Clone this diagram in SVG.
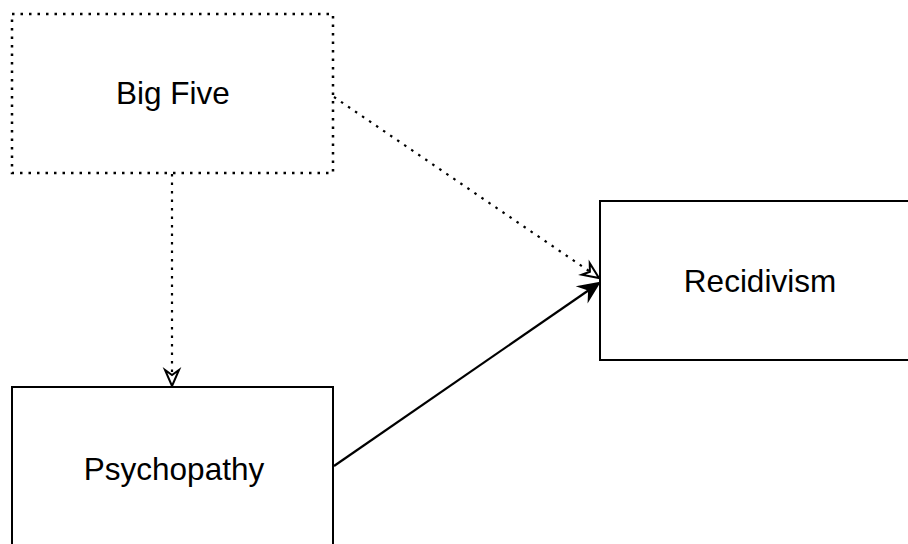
<svg xmlns="http://www.w3.org/2000/svg" width="908" height="544" viewBox="0 0 908 544">
  <style>
    .box { fill: #ffffff; stroke: #000000; stroke-width: 2; }
    .dotted { stroke-width: 2.5; stroke-dasharray: 2.5 6; }
    .label { font-family: "Liberation Sans", Arial, sans-serif; font-size: 31.5px; fill: #000000; text-anchor: middle; }
    .edge { fill: none; stroke: #000000; stroke-width: 2.2; }
    .head-open { fill: #ffffff; stroke: #000000; stroke-width: 2; stroke-linejoin: miter; }
    .head-solid { fill: #000000; stroke: #000000; stroke-width: 2; stroke-linejoin: miter; }
  </style>
  <rect width="908" height="544" fill="#ffffff"/>

  <g id="connectors">
    <!-- Big Five -> Psychopathy (dotted) -->
    <path class="edge dotted" d="M172,174 L172,372"/>
    <path class="head-open" d="M0,0 L-16,-7 L-11,0 L-16,7 Z" transform="translate(172,386) rotate(90)"/>
    <!-- Big Five -> Recidivism (dotted) -->
    <path class="edge dotted" d="M334,97 L589,271"/>
    <path class="head-open" d="M0,0 L-16,-7 L-11,0 L-16,7 Z" transform="translate(599,278) rotate(34.3)"/>
    <!-- Psychopathy -> Recidivism (solid) -->
    <path class="edge" d="M334,466 L589,290"/>
    <path class="head-solid" d="M0,0 L-18,-8 L-12,0 L-18,8 Z" transform="translate(599,283) rotate(-34.6)"/>
  </g>

  <g id="node-bigfive">
    <rect class="box dotted" x="12" y="14" width="321" height="159"/>
    <text class="label" x="173" y="104">Big Five</text>
  </g>

  <g id="node-recidivism">
    <rect class="box" x="600" y="201" width="320" height="159"/>
    <text class="label" x="760" y="292">Recidivism</text>
  </g>

  <g id="node-psychopathy">
    <rect class="box" x="12" y="387" width="321" height="165"/>
    <text class="label" x="174" y="480">Psychopathy</text>
  </g>
</svg>
